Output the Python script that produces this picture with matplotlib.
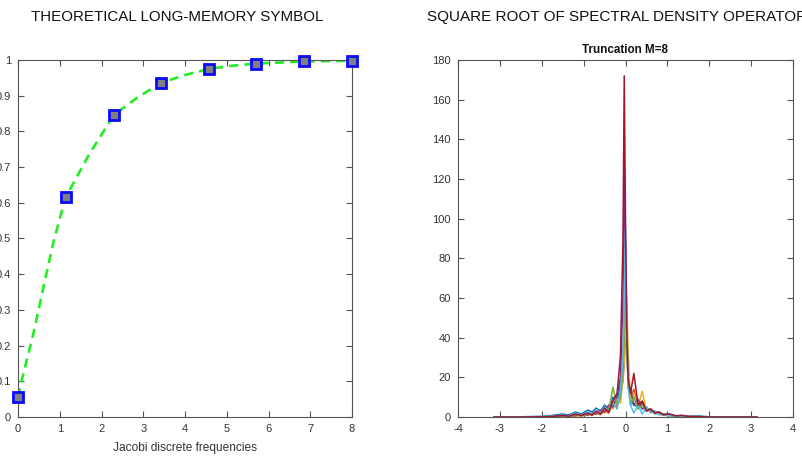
import matplotlib
matplotlib.use("Agg")
import matplotlib.pyplot as plt

# left panel: long-memory symbol
freq_pts = [0, 1.14, 2.29, 3.43, 4.57, 5.71, 6.86, 8]
symbol_pts = [0.055, 0.615, 0.845, 0.936, 0.975, 0.990, 0.996, 0.998]
curve_x = [0, 0.09, 0.37, 0.61, 0.85, 1.14, 1.7, 2.29, 2.86, 3.43, 4.0,
           4.57, 5.14, 5.71, 6.28, 6.86, 7.43, 8]
curve_y = [0.055, 0.103, 0.234, 0.364, 0.49, 0.615, 0.735, 0.845, 0.895,
           0.936, 0.958, 0.975, 0.984, 0.990, 0.993, 0.996, 0.997, 0.998]

# right panel: spectral density curves (truncation M=8)
omega = [-3.14, -2.5, -2.0, -1.75, -1.5, -1.35, -1.2, -1.05, -0.9,
         -0.8, -0.7, -0.6, -0.5, -0.4, -0.3, -0.2, -0.12, -0.06, -0.03,
         0,
         0.03, 0.06, 0.12, 0.2, 0.3, 0.4, 0.5, 0.6, 0.7, 0.8,
         0.9, 1.05, 1.2, 1.35, 1.5, 1.75, 2.0, 2.5, 3.14]

s_blue = [0, 0.1, 0.3, 0.8, 1.5, 1.0, 2.5, 1.5, 3.5,
          2.5, 4.5, 3, 6, 4, 10, 8, 16, 30, 55,
          88,
          45, 18, 9, 6, 5, 7, 3.5, 4, 2, 2.5,
          1.2, 1.5, 0.6, 0.8, 0.3, 0.5, 0.1, 0, 0]
s_orange = [0, 0, 0.1, 0.2, 0.5, 0.3, 1, 0.5, 1.5,
            0.8, 2, 1.2, 3, 2, 7, 5, 12, 18, 28,
            40,
            35, 22, 10, 14, 6, 8, 3.5, 4, 2, 2.5,
            1, 1.2, 0.5, 0.6, 0.2, 0.1, 0, 0, 0]
s_yellow = [0, 0, 0.1, 0.2, 0.4, 0.6, 0.4, 1.2, 0.8,
            2.0, 1.2, 3.5, 2, 6, 4, 9, 7, 20, 30,
            45,
            60, 35, 8, 12, 5, 13, 3, 4, 2, 2,
            1, 0.8, 0.5, 0.3, 0.2, 0.1, 0, 0, 0]
s_purple = [0, 0, 0.1, 0.2, 0.5, 0.8, 0.6, 1.5, 1.0,
            2.0, 1.5, 3.5, 2.5, 6, 5, 11, 20, 60, 124,
            70,
            44, 15, 14, 6, 9, 4, 5, 2.5, 3, 1.5,
            1.5, 0.8, 0.5, 0.3, 0.2, 0.1, 0, 0, 0]
s_green = [0, 0, 0.1, 0.3, 0.6, 0.3, 1.2, 0.6, 1.8,
           1, 2.5, 1.5, 5, 3, 15, 6, 10, 22, 40,
           65,
           40, 20, 6, 10, 4, 6, 3, 3.5, 1.5, 2,
           0.8, 1.0, 0.4, 0.5, 0.2, 0.1, 0, 0, 0]
s_cyan = [0, 0.1, 0.2, 0.4, 1, 0.6, 2, 1, 2.5,
          1.5, 3, 2, 5, 3, 7, 4, 14, 30, 60,
          95,
          50, 15, 6, 2, 6, 1.5, 5, 2, 3, 1,
          1.5, 0.5, 0.8, 0.3, 0.4, 0.1, 0, 0, 0]
s_red = [0, 0, 0.1, 0.3, 0.8, 0.4, 1.5, 0.8, 2.0,
         1.0, 3.0, 1.5, 4.5, 2.5, 8, 12, 31, 90, 172,
         100,
         45, 20, 12, 22, 6, 8, 3, 4, 2, 2.5,
         1.2, 1.5, 0.6, 0.8, 0.3, 0.2, 0, 0, 0]

series = [s_blue, s_orange, s_yellow, s_purple, s_green, s_cyan, s_red]
colors = ["#0072BD", "#D95319", "#EDB120", "#7E2F8E", "#77AC30", "#4DBEEE", "#A2142F"]

plt.rcParams["font.family"] = ["Liberation Sans", "DejaVu Sans"]
plt.rcParams["axes.unicode_minus"] = False
txt = "#333333"

fig = plt.figure(figsize=(8.02, 4.69), dpi=100)
ax1 = fig.add_axes([18 / 802, 1 - 417 / 469, 334 / 802, 357 / 469])
ax2 = fig.add_axes([458 / 802, 1 - 417 / 469, 335 / 802, 357 / 469])

ax1.plot(curve_x, curve_y, "--", color="#22ee22", lw=1.9, dashes=(3.5, 2.3))
ax1.plot(freq_pts, symbol_pts, "s", ms=7.5, mfc="#808080", mec="#0a0aff",
         mew=2.0, clip_on=False, zorder=5)
ax1.set_xlim(0, 8)
ax1.set_ylim(0, 1)
ax1.set_xticks(range(0, 9))
ax1.set_yticks([i / 10 for i in range(11)])
ax1.set_yticklabels(["0", "0.1", "0.2", "0.3", "0.4", "0.5", "0.6", "0.7", "0.8", "0.9", "1"])
ax1.set_xlabel("Jacobi discrete frequencies", fontsize=8.6, color=txt, labelpad=6)

for s, c in zip(series, colors):
    ax2.plot(omega, s, color=c, lw=1.1)
ax2.set_xlim(-4, 4)
ax2.set_ylim(0, 180)
ax2.set_xticks(range(-4, 5))
ax2.set_yticks(range(0, 181, 20))
ax2.set_title("Truncation M=8", fontsize=8.4, fontweight="bold", color="#111111", pad=5)

for ax in (ax1, ax2):
    ax.tick_params(direction="in", top=True, right=True, length=4, width=0.8,
                   colors="#555555", labelcolor=txt, labelsize=8, pad=5)
    for sp in ax.spines.values():
        sp.set_color("#555555")
        sp.set_linewidth(0.8)

fig.text(177 / 802, 1 - 17 / 469, "THEORETICAL LONG-MEMORY SYMBOL", ha="center",
         va="center", fontsize=10.9, color="#111111")
fig.text(617 / 802, 1 - 17 / 469, "SQUARE ROOT OF SPECTRAL DENSITY OPERATOR",
         ha="center", va="center", fontsize=11, color="#111111")

fig.savefig("out.png", dpi=100)
